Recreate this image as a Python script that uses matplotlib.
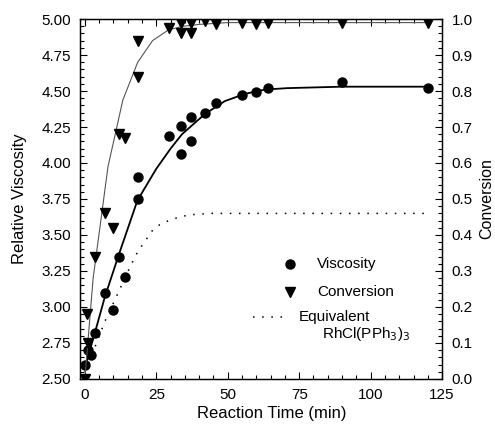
import matplotlib
matplotlib.use('Agg')
from matplotlib import pyplot as plt
from matplotlib.ticker import MultipleLocator, AutoMinorLocator

plt.rcParams['font.family'] = ['Liberation Sans', 'DejaVu Sans']

# measured points (reaction time in min)
visc_time = [0, 1, 2, 3.5, 7, 10, 12, 14, 18.5, 18.5, 29.5, 33.5, 33.5, 37, 37,
             42, 46, 55, 60, 64, 90, 120]
visc_vals = [2.60, 2.70, 2.67, 2.82, 3.10, 2.98, 3.35, 3.21, 3.90, 3.75, 4.19, 4.26,
             4.06, 4.32, 4.15, 4.35, 4.42, 4.47, 4.49, 4.52, 4.56, 4.52]

conv_time = [0, 0.6, 1.2, 3.5, 7, 10, 12, 14, 18.5, 18.5, 29.5, 33.5, 33.5, 37, 37,
             42, 46, 55, 60, 64, 90, 120]
conv_vals = [0.0, 0.18, 0.10, 0.34, 0.46, 0.42, 0.68, 0.67, 0.94, 0.84, 0.975, 0.99,
             0.96, 0.99, 0.96, 0.995, 0.985, 0.99, 0.985, 0.99, 0.99, 0.99]

# fitted curves
visc_fit_time = [0, 3.5, 7, 12, 18.4, 25, 30, 34, 42, 49, 56, 63, 71, 90, 120]
visc_fit_vals = [2.58, 2.82, 3.07, 3.37, 3.74, 3.96, 4.10, 4.20, 4.34, 4.43, 4.48,
                 4.51, 4.52, 4.53, 4.53]

conv_fit_time = [0, 2.9, 8.1, 13.3, 18.5, 23.7, 29.3, 34.5, 40, 50, 64, 90, 120]
conv_fit_vals = [0.0, 0.28, 0.59, 0.775, 0.88, 0.94, 0.97, 0.98, 0.985, 0.99, 0.99,
                 0.99, 0.99]

# equivalent RhCl(PPh3)3 viscosity curve
equiv_time = [0, 3.5, 7, 11, 15.6, 18.4, 20.8, 23.6, 26.7, 29.5, 32.3, 36.5, 44.4, 119]
equiv_vals = [2.55, 2.72, 2.90, 3.07, 3.27, 3.38, 3.45, 3.53, 3.58, 3.60, 3.62, 3.64,
              3.65, 3.65]

fig = plt.figure(figsize=(4.95, 4.28), dpi=100)
ax = fig.add_axes([0.1616, 0.1145, 0.7315, 0.8411])
ax2 = ax.twinx()

ax.plot(visc_fit_time, visc_fit_vals, color='black', lw=1.3, zorder=2)
ax.plot(equiv_time, equiv_vals, color='black', lw=1.1, linestyle=(0, (1, 5)), zorder=2)
ax.plot(visc_time, visc_vals, 'o', color='black', ms=6.5, zorder=3)

ax2.plot(conv_fit_time, conv_fit_vals, color='#555555', lw=0.8, zorder=2)
ax2.plot(conv_time, conv_vals, 'v', color='black', ms=7, zorder=3)

ax.set_xlim(-1.7, 125)
ax.set_ylim(2.5, 5.0)
ax2.set_ylim(0.0, 1.0)

ax.xaxis.set_major_locator(MultipleLocator(25))
ax.xaxis.set_minor_locator(MultipleLocator(5))
ax.yaxis.set_major_locator(MultipleLocator(0.25))
ax.yaxis.set_minor_locator(AutoMinorLocator(5))
ax2.yaxis.set_major_locator(MultipleLocator(0.1))
ax2.yaxis.set_minor_locator(AutoMinorLocator(5))
ax.yaxis.set_major_formatter(plt.FormatStrFormatter('%.2f'))
ax2.yaxis.set_major_formatter(plt.FormatStrFormatter('%.1f'))

ax.tick_params(axis='both', which='both', direction='in', labelsize=11, pad=6.5,
               width=0.8)
ax.tick_params(axis='x', which='both', top=True)
ax.tick_params(which='major', length=5)
ax.tick_params(which='minor', length=3)
ax2.tick_params(which='both', direction='in', labelsize=11, pad=7, width=0.8)
ax2.tick_params(which='major', length=5)
ax2.tick_params(which='minor', length=3)

for a in (ax, ax2):
    for s in a.spines.values():
        s.set_linewidth(0.9)

ax.set_xlabel('Reaction Time (min)', fontsize=12)
ax.set_ylabel('Relative Viscosity', fontsize=12)
ax2.set_ylabel('Conversion', fontsize=11.5)
ax.xaxis.set_label_coords(0.53, -0.075)
ax.yaxis.set_label_coords(-0.145, 0.5)
ax2.yaxis.set_label_coords(1.103, 0.5)

# legend drawn in axes coordinates
tr = ax.transAxes
ax.plot([0.58], [0.319], 'o', color='black', ms=6.5, transform=tr, clip_on=False)
ax.text(0.655, 0.319, 'Viscosity', fontsize=11, va='center', transform=tr)
ax.plot([0.58], [0.242], 'v', color='black', ms=7, transform=tr, clip_on=False)
ax.text(0.655, 0.242, 'Conversion', fontsize=11, va='center', transform=tr)
ax.plot([0.478, 0.575], [0.172, 0.172], color='black', lw=1.1,
        linestyle=(0, (1, 5)), transform=tr)
ax.text(0.605, 0.172, 'Equivalent', fontsize=11, va='center', transform=tr)
ax.text(0.668, 0.125, r'RhCl(PPh$_3$)$_3$', fontsize=11, va='center', transform=tr)

fig.savefig('out.png', dpi=100)
